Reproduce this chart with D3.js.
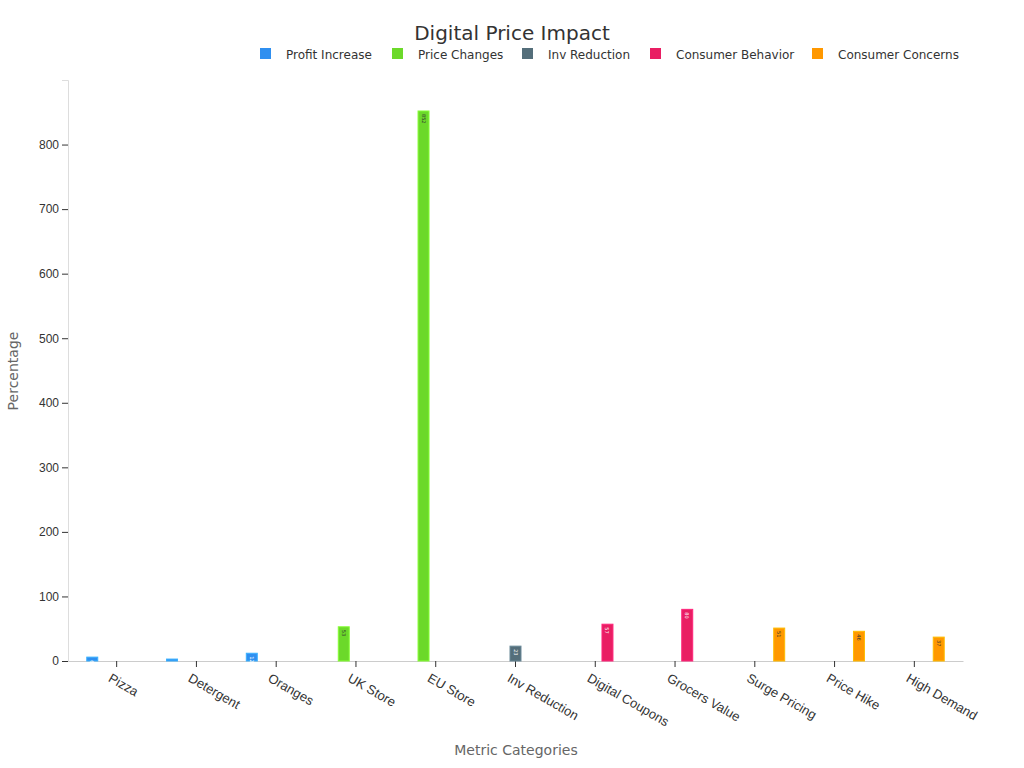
<!DOCTYPE html>
<html><head><meta charset="utf-8">
<script src="https://cdn.jsdelivr.net/npm/d3@7"></script>
<style>body{margin:0;background:#fff;font-family:"DejaVu Sans",sans-serif}</style>
</head><body><div id="chart"></div>
<script>
var categories = ["Pizza","Detergent","Oranges","UK Store","EU Store","Inv Reduction","Digital Coupons","Grocers Value","Surge Pricing","Price Hike","High Demand"];
var seriesNames = ["Profit Increase","Price Changes","Inv Reduction","Consumer Behavior","Consumer Concerns"];
var colors = ["#2f8ff0","#6cd92a","#546e7a","#e91e63","#ff9800"];
// which series each category belongs to, and its value
var seriesOf = [0,0,0,1,1,2,3,3,4,4,4];
var values = [6,3,12,53,852,23,57,80,51,46,37];

var width = 1024, height = 768,
    m = {left:68, right:61, top:80, bottom:107};

var svg = d3.select("#chart").append("svg").attr("width",width).attr("height",height);

var x = d3.scaleBand().domain(categories).range([m.left,width-m.right]).padding(0.22);
var xi = d3.scaleBand().domain(d3.range(seriesNames.length)).range([0,x.bandwidth()]).padding(0.1);
var y = d3.scaleLinear().domain([0,900]).range([height-m.bottom,m.top]);

svg.append("text").attr("x",512).attr("y",40).attr("text-anchor","middle")
  .attr("font-size",20).attr("fill","#333").text("Digital Price Impact");

// legend
var lx = [260,392,522,650,812];
var lg = svg.selectAll("g.leg").data(seriesNames).enter().append("g")
  .attr("transform",function(d,i){return "translate("+lx[i]+",48)";});
lg.append("rect").attr("width",11).attr("height",11).attr("fill",function(d,i){return colors[i];});
lg.append("text").attr("x",26).attr("y",10.5).attr("font-size",12).attr("fill","#333").text(function(d){return d;});

var ya = svg.append("g").attr("transform","translate("+m.left+",0)")
  .call(d3.axisLeft(y).tickValues(d3.range(0,900,100)).tickSize(6));
ya.select(".domain").attr("stroke","#ddd");
ya.selectAll(".tick line").attr("stroke","#333");
ya.selectAll("text").attr("font-size",12).attr("fill","#333");

var xa = svg.append("g").attr("transform","translate(0,"+(height-m.bottom)+")")
  .call(d3.axisBottom(x).tickSize(6).tickSizeOuter(0));
xa.select(".domain").attr("stroke","#ccc");
xa.selectAll(".tick line").attr("stroke","#333");
xa.selectAll("text").attr("font-size",13).attr("fill","#333")
  .attr("text-anchor","start").attr("transform","translate(0,4) rotate(30)");

svg.append("text").attr("x",516).attr("y",755).attr("text-anchor","middle")
  .attr("font-size",14).attr("fill","#666").text("Metric Categories");
svg.append("text").attr("transform","translate(18,371) rotate(-90)").attr("text-anchor","middle")
  .attr("font-size",14).attr("fill","#666").text("Percentage");

var bars = svg.selectAll("g.bar").data(categories).enter().append("g");
bars.append("rect")
  .attr("x",function(d,i){return x(d)+xi(seriesOf[i]);})
  .attr("y",function(d,i){return y(values[i]);})
  .attr("width",xi.bandwidth())
  .attr("height",function(d,i){return y(0)-y(values[i]);})
  .attr("fill",function(d,i){return colors[seriesOf[i]];})
  .attr("stroke",function(d,i){return d3.color(colors[seriesOf[i]]).brighter(0.6);})
  .attr("stroke-width",1);
bars.append("text")
  .attr("transform",function(d,i){return "translate("+(x(d)+xi(seriesOf[i])+xi.bandwidth()/2-2)+","+(y(values[i])+3)+") rotate(90)";})
  .attr("font-size",5).attr("fill",function(d,i){return seriesOf[i]==4||seriesOf[i]==1?"#333":"#fff";})
  .text(function(d,i){return values[i];});
</script></body></html>
